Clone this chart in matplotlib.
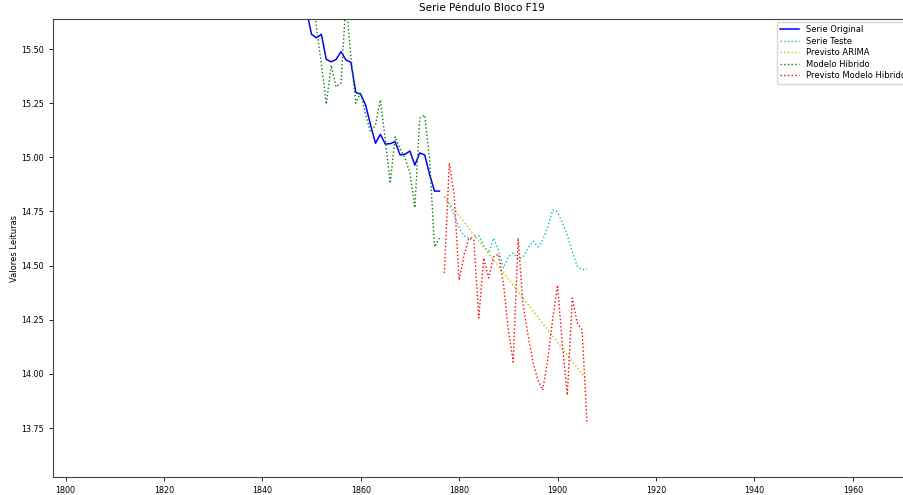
import pandas as pd
import matplotlib
matplotlib.use("Agg")
import matplotlib.pyplot as plt
import matplotlib.dates as mdates

# anos (datas de fim de ano) e leituras
anos_orig = list(range(1848, 1876))
serie_original = [15.676, 15.568, 15.552, 15.568, 15.452, 15.441, 15.452, 15.488,
                  15.449, 15.439, 15.300, 15.291, 15.241, 15.149, 15.065, 15.106,
                  15.061, 15.063, 15.072, 15.011, 15.014, 15.029, 14.964, 15.020,
                  15.011, 14.921, 14.844, 14.844]

anos_hib = list(range(1849, 1876))
modelo_hibrido = [15.80, 15.60, 15.43, 15.245, 15.425, 15.325, 15.343, 15.72,
                  15.47, 15.25, 15.30, 15.195, 15.117, 15.149, 15.265, 15.08,
                  14.88, 15.095, 15.04, 14.995, 14.93, 14.766, 15.18, 15.195,
                  14.99, 14.586, 14.627]

anos_teste = list(range(1876, 1906))
serie_teste = [14.818, 14.784, 14.733, 14.673, 14.637, 14.627, 14.632, 14.637,
               14.595, 14.558, 14.627, 14.572, 14.489, 14.540, 14.558, 14.530,
               14.540, 14.581, 14.613, 14.586, 14.618, 14.678, 14.757, 14.748,
               14.697, 14.641, 14.563, 14.498, 14.480, 14.484]

previsto_arima = [14.818, 14.789, 14.760, 14.731, 14.701, 14.672, 14.643, 14.614,
                  14.584, 14.555, 14.526, 14.497, 14.467, 14.438, 14.409, 14.380,
                  14.350, 14.321, 14.292, 14.263, 14.233, 14.204, 14.175, 14.146,
                  14.116, 14.087, 14.058, 14.029, 13.999, 13.972]

previsto_hibrido = [14.466, 14.974, 14.826, 14.433, 14.549, 14.627, 14.618, 14.258,
                    14.535, 14.443, 14.540, 14.553, 14.418, 14.203, 14.055, 14.627,
                    14.318, 14.179, 14.055, 13.972, 13.925, 14.064, 14.249, 14.410,
                    14.133, 13.902, 14.350, 14.235, 14.203, 13.768]


def datas(anos):
    return pd.to_datetime([f"{a}-12-31" for a in anos])


plt.rcParams['font.size'] = 6

fig = plt.figure(figsize=(9.04, 4.95), dpi=100)
# eixo passa da borda direita (imagem original recortada)
x0, x1 = 53, 930
ax = fig.add_axes([x0 / 904, 0.0364, (x1 - x0) / 904, 0.9252])

ax.plot(datas(anos_orig), serie_original, color='b', lw=1.1, label='Serie Original')
ax.plot(datas(anos_teste), serie_teste, color='c', ls=':', lw=1.0, label='Serie Teste')
ax.plot(datas(anos_teste), previsto_arima, color='y', ls=':', lw=1.0, label='Previsto ARIMA')
ax.plot(datas(anos_hib), modelo_hibrido, color='g', ls=':', lw=1.0, label='Modelo Hibrido')
ax.plot(datas(anos_teste), previsto_hibrido, color='r', ls=':', lw=1.0,
        label='Previsto Modelo Hibrido')

ax.set_xlim(pd.Timestamp('1797-06-15'), pd.Timestamp('1975-09-16'))
ax.set_ylim(13.524, 15.6385)
ax.xaxis.set_major_locator(mdates.YearLocator(20))
ax.xaxis.set_major_formatter(mdates.DateFormatter('%Y'))
ax.tick_params(labelsize=5.8, length=3, width=0.6)
for s in ax.spines.values():
    s.set_linewidth(0.8)
    s.set_color('#444444')

ax.set_title('Serie Péndulo Bloco F19', fontsize=7.5, x=(482 - x0) / (x1 - x0))
ax.set_ylabel('Valores Leituras', fontsize=6, labelpad=1.5)
ax.legend(loc='upper left', bbox_to_anchor=(777 / 904, 1 - 22 / 495),
          bbox_transform=fig.transFigure, fontsize=6, handlelength=2.3,
          labelspacing=0.3, borderaxespad=0)

fig.savefig('out.png', dpi=100)
